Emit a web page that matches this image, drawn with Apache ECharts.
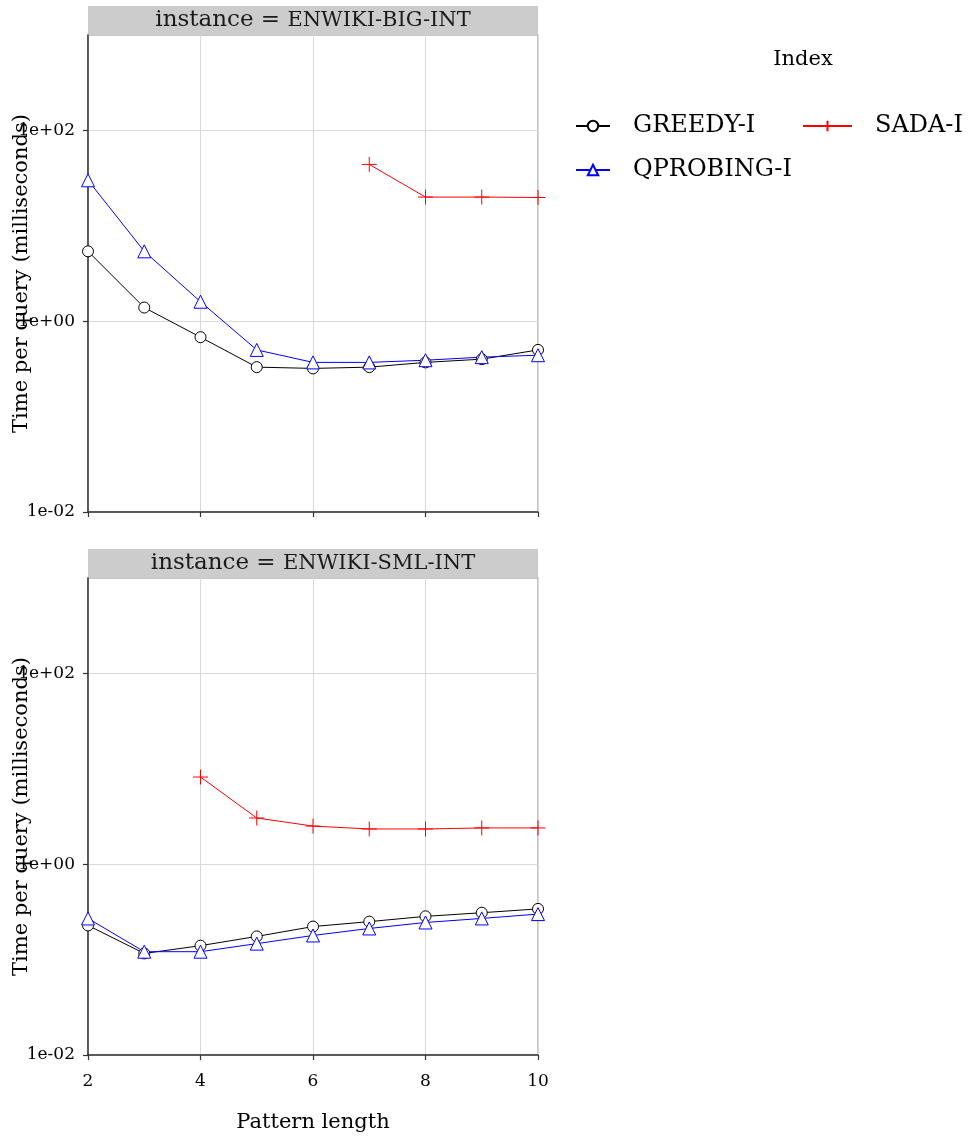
<!DOCTYPE html>
<html><head><meta charset="utf-8">
<script src="https://cdn.jsdelivr.net/npm/echarts@6/dist/echarts.min.js"></script>
<style>html,body{margin:0;padding:0;background:#fff}#c{width:970px;height:1138px}</style>
</head><body><div id="c"></div>
<script>
const patternLengths = [2, 3, 4, 5, 6, 7, 8, 9, 10];
const panelNames = ['ENWIKI-BIG-INT', 'ENWIKI-SML-INT'];
const seriesNames = ['GREEDY-I', 'QPROBING-I', 'SADA-I'];
const greedyBig = [5.4, 1.39, 0.68, 0.33, 0.32, 0.33, 0.37, 0.40, 0.50];
const qprobingBig = [30, 5.4, 1.6, 0.50, 0.37, 0.37, 0.39, 0.42, 0.44];
const sadaBig = [null, null, null, null, null, 44, 20, 20, 19.8];
const greedySml = [0.228, 0.116, 0.14, 0.175, 0.222, 0.25, 0.284, 0.31, 0.34];
const qprobingSml = [0.27, 0.121, 0.121, 0.147, 0.179, 0.212, 0.245, 0.27, 0.30];
const sadaSml = [null, null, 8.2, 3.05, 2.51, 2.34, 2.34, 2.4, 2.4];
const yTickValues = [0.01, 1, 100];
const yTickLabels = ['1e-02', '1e+00', '1e+02'];
const xTickLabels = ['2', '4', '6', '8', '10'];

const FONT = 'DejaVu Serif';
const pairs = arr => patternLengths.map((x, i) => [x, arr[i]]).filter(p => p[1] != null);

const grids = [
  { left: 88, width: 450, top: 35, height: 477 },
  { left: 88, width: 450, top: 578, height: 477 }
];

function yLabel(v) {
  const e = Math.round(Math.log10(v));
  const idx = yTickValues.findIndex(t => Math.round(Math.log10(t)) === e);
  return idx >= 0 ? yTickLabels[idx] : '';
}

const styles = {
  'GREEDY-I': { color: '#000', symbol: 'circle', size: 11 },
  'QPROBING-I': { color: '#0000ff', symbol: 'triangle', size: 13 },
  'SADA-I': { color: '#ff0000', symbol: 'path://M0,5L10,5M5,0L5,10', size: 15 }
};

const panelData = [
  { 'GREEDY-I': greedyBig, 'QPROBING-I': qprobingBig, 'SADA-I': sadaBig },
  { 'GREEDY-I': greedySml, 'QPROBING-I': qprobingSml, 'SADA-I': sadaSml }
];

const series = [];
panelData.forEach((pd, gi) => {
  seriesNames.forEach(name => {
    const s = styles[name];
    series.push({
      name: name, type: 'line', xAxisIndex: gi, yAxisIndex: gi,
      data: pairs(pd[name]),
      symbol: s.symbol, symbolSize: s.size, showAllSymbol: true,
      lineStyle: { color: s.color, width: 1 },
      itemStyle: { color: name === 'SADA-I' ? s.color : '#fff', borderColor: s.color, borderWidth: 1 },
      emphasis: { disabled: true },
      animation: false
    });
  });
});

const axisLine = { show: true, lineStyle: { color: '#333', width: 1.5 } };
const splitLine = { show: true, lineStyle: { color: '#d9d9d9', width: 1 } };

const xAxes = grids.map((g, gi) => ({
  type: 'value', gridIndex: gi, min: 2, max: 10, interval: 2,
  axisLine, splitLine,
  axisTick: { show: true, length: 5, lineStyle: { color: '#333', width: 1.2 } },
  axisLabel: {
    show: gi === 1, fontFamily: FONT, fontSize: 17, color: '#000', margin: 18,
    formatter: v => xTickLabels[xTickLabels.indexOf(String(v))] || String(v)
  },
  name: gi === 1 ? 'Pattern length' : '',
  nameLocation: 'middle', nameGap: 57, nameMoveOverlap: false,
  nameTextStyle: { fontFamily: FONT, fontSize: 21, color: '#000' }
}));

const yAxes = grids.map((g, gi) => ({
  type: 'log', logBase: 10, gridIndex: gi, min: 0.01, max: 1000, interval: 2,
  axisLine, splitLine,
  axisTick: { show: true, length: 5, customValues: yTickValues, lineStyle: { color: '#333', width: 1.2 } },
  axisLabel: { fontFamily: FONT, fontSize: 17, color: '#000', margin: 13, customValues: yTickValues, formatter: yLabel },
  name: 'Time per query (milliseconds)',
  nameLocation: 'middle', nameGap: 56, nameMoveOverlap: false,
  nameTextStyle: { fontFamily: FONT, fontSize: 21, color: '#000' }
}));

const graphics = [];
grids.forEach((g, gi) => {
  graphics.push({
    type: 'rect', left: g.left, top: g.top - 29,
    shape: { width: g.width, height: 29 },
    style: { fill: '#cccccc' }, silent: true
  });
  graphics.push({
    type: 'text', x: g.left + g.width / 2, y: g.top - 14.5,
    style: {
      text: '{a|instance = }{b|' + panelNames[gi] + '}',
      align: 'center', verticalAlign: 'middle',
      rich: {
        a: { fontFamily: FONT, fontSize: 23, fill: '#1a1a1a', color: '#1a1a1a' },
        b: { fontFamily: FONT, fontSize: 21, fill: '#1a1a1a', color: '#1a1a1a' }
      }
    }, silent: true
  });
});
graphics.push({
  type: 'text', x: 803, y: 60,
  style: { text: 'Index', align: 'center', verticalAlign: 'middle', fontFamily: FONT, fontSize: 21, fill: '#000' },
  silent: true
});

const legendText = { fontFamily: FONT, fontSize: 24, color: '#000', padding: [0, 0, 0, 18] };

const option = {
  backgroundColor: '#fff',
  animation: false,
  grid: grids.map(g => Object.assign({ show: true, borderColor: '#b3b3b3', borderWidth: 1.5, backgroundColor: 'transparent', containLabel: false, outerBoundsMode: 'none' }, g)),
  xAxis: xAxes,
  yAxis: yAxes,
  legend: [
    { data: ['GREEDY-I', 'QPROBING-I'], orient: 'vertical', left: 570, top: 109, itemWidth: 34, itemHeight: 13, itemGap: 20, textStyle: legendText, selectedMode: false },
    { data: ['SADA-I'], orient: 'vertical', left: 797, top: 109, itemWidth: 49, itemHeight: 13, itemGap: 20, textStyle: legendText, selectedMode: false }
  ],
  graphic: graphics,
  series: series
};
const chart = echarts.init(document.getElementById('c'), null, { renderer: 'canvas' });
chart.setOption(option);
</script></body></html>
